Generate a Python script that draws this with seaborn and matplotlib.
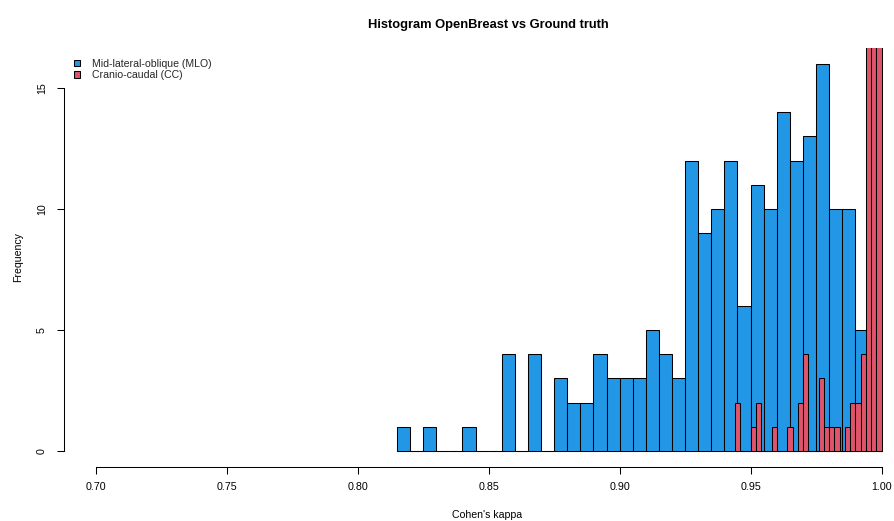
import numpy as np
import pandas as pd
import matplotlib
matplotlib.use("Agg")
import matplotlib.pyplot as plt
from matplotlib.patches import Patch
import seaborn as sns

# ---- data ----
mlo_bin_start = [0.815, 0.825, 0.840, 0.855, 0.865, 0.875, 0.880, 0.885, 0.890,
                 0.895, 0.900, 0.905, 0.910, 0.915, 0.920, 0.925, 0.930, 0.935,
                 0.940, 0.945, 0.950, 0.955, 0.960, 0.965, 0.970, 0.975, 0.980,
                 0.985, 0.990]
mlo_counts = [1, 1, 1, 4, 4, 3, 2, 2, 4,
              3, 3, 3, 5, 4, 3, 12, 9, 10,
              12, 6, 11, 10, 14, 12, 13, 16, 10,
              10, 5]
mlo_width = 0.005

cc_bin_start = [0.944, 0.950, 0.952, 0.958, 0.964, 0.968, 0.970, 0.976, 0.978,
                0.980, 0.982, 0.986, 0.988, 0.990, 0.992, 0.994, 0.996, 0.998]
cc_counts = [2, 1, 2, 1, 1, 2, 4, 3, 1,
             1, 1, 1, 2, 2, 4, 22, 31, 47]
cc_width = 0.002

x_ticks = [0.70, 0.75, 0.80, 0.85, 0.90, 0.95, 1.00]
x_tick_labels = ["0.70", "0.75", "0.80", "0.85", "0.90", "0.95", "1.00"]
y_ticks = [0, 5, 10, 15]
y_tick_labels = ["0", "5", "10", "15"]

title = "Histogram OpenBreast vs Ground truth"
x_label = "Cohen's kappa"
y_label = "Frequency"
legend_labels = ["Mid-lateral-oblique (MLO)", "Cranio-caudal (CC)"]

BLUE = "#2297E6"
RED = "#DF536B"

# ---- build tables ----
mlo = pd.DataFrame({"kappa": np.array(mlo_bin_start) + mlo_width / 2,
                    "n": mlo_counts})
cc = pd.DataFrame({"kappa": np.array(cc_bin_start) + cc_width / 2,
                   "n": cc_counts})
mlo_edges = [float(v) for v in np.round(np.arange(mlo_bin_start[0], 1.0 + 1e-9, mlo_width), 4)]
cc_edges = [float(v) for v in np.round(np.arange(cc_bin_start[0], 1.0 + 1e-9, cc_width), 4)]

sns.set_theme(style="white")
plt.rcParams["font.family"] = ["Liberation Sans", "DejaVu Sans"]

fig = plt.figure(figsize=(8.95, 5.21), dpi=100)
W, H = 895.0, 521.0
left_px, right_px, top_px, bot_px = 64.3, 913.0, 48.3, 466.5
ax = fig.add_axes([left_px / W, 1 - bot_px / H,
                   (right_px - left_px) / W, (bot_px - top_px) / H])

# baseline of empty bins (R draws zero-height bars as a line)
ax.plot([mlo_edges[0], mlo_edges[-1]], [0, 0], color="#555555",
        linewidth=0.75, zorder=0.5)

sns.histplot(data=mlo, x="kappa", weights="n", bins=mlo_edges, ax=ax,
             color=BLUE, alpha=1, edgecolor="black", linewidth=0.75)
sns.histplot(data=cc, x="kappa", weights="n", bins=cc_edges, ax=ax,
             color=RED, alpha=1, edgecolor="black", linewidth=0.75)

ax.set_xlim(0.688, 1.012)
ax.set_ylim(-0.64, 16.64)

for s in ["top", "right"]:
    ax.spines[s].set_visible(False)
for s in ["left", "bottom"]:
    ax.spines[s].set_color("black")
    ax.spines[s].set_linewidth(0.75)
ax.spines["left"].set_bounds(0, 15)
ax.spines["bottom"].set_bounds(0.70, 1.00)

ax.set_xticks(x_ticks)
ax.set_xticklabels(x_tick_labels)
ax.set_yticks(y_ticks)
ax.set_yticklabels(y_tick_labels)
ax.tick_params(axis="both", direction="out", length=5, width=0.75,
               color="black", labelsize=7.7, labelcolor="black",
               bottom=True, left=True)
ax.tick_params(axis="x", pad=6.5)
ax.tick_params(axis="y", pad=11)
for lab in ax.get_yticklabels():
    lab.set_rotation(90)
    lab.set_ha("center")
    lab.set_va("center")

ax.set_xlabel(x_label, fontsize=7.6, color="black")
ax.set_ylabel(y_label, fontsize=7.6, color="black")
ax.xaxis.set_label_coords((487.5 - left_px) / (right_px - left_px),
                          (bot_px - 518.0) / (bot_px - top_px))
ax.xaxis.label.set_va("baseline")
ax.yaxis.set_label_coords((18.5 - left_px) / (right_px - left_px), 0.5)
ax.yaxis.label.set_va("center")

ax.text((488.6 - left_px) / (right_px - left_px),
        (bot_px - 28.3) / (bot_px - top_px), title,
        transform=ax.transAxes, ha="center", va="baseline",
        fontsize=9.3, fontweight="bold", color="black")

handles = [Patch(facecolor=BLUE, edgecolor="black", linewidth=0.75),
           Patch(facecolor=RED, edgecolor="black", linewidth=0.75)]
ax.legend(handles, legend_labels, loc="upper left",
          bbox_to_anchor=(74.0 / W, 1 - 59.0 / H), bbox_transform=fig.transFigure,
          frameon=False, fontsize=7.6, handlelength=0.55, handleheight=0.55,
          handletextpad=1.15, labelspacing=0.12, borderpad=0, borderaxespad=0)

fig.savefig("out.png", dpi=100)
